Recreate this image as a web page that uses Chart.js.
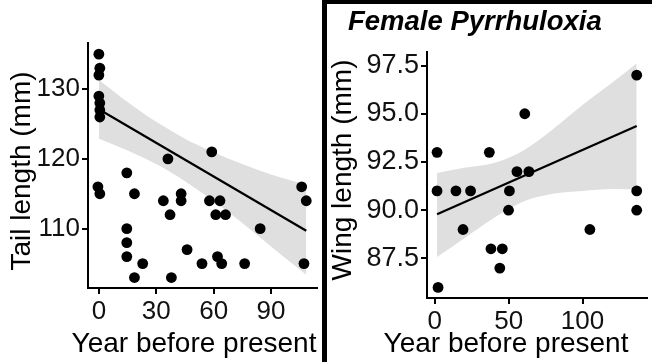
<!DOCTYPE html>
<html><head><meta charset="utf-8">
<script src="https://cdn.jsdelivr.net/npm/chart.js@4.4.1/dist/chart.umd.min.js"></script>
<style>
html,body{margin:0;padding:0;background:#fff;overflow:hidden;width:652px;height:362px;}
#c1{position:absolute;left:0;top:0;}
#c2{position:absolute;left:320px;top:0;}
#frame{position:absolute;left:322px;top:-1px;width:340px;height:370px;border:5px solid #000;box-sizing:border-box;pointer-events:none;}
</style></head><body>
<canvas id="c1" width="322" height="362"></canvas>
<canvas id="c2" width="332" height="362"></canvas>
<div id="frame"></div>
<script>
// ---------- Left panel: tail length ----------
const tailYear = [0, 0.5, 0, 0, 0.5, 0.5, 0.5, -0.5, 0.5,
  14.6, 36.1, 59,
  18.6, 33.7, 43, 43, 37.2, 57.8, 63.3, 61.1, 66.2, 84.3, 106, 108.4, 107.2,
  14.6, 14.6, 14.6, 22.9, 18.6, 37.9, 46.1, 53.9, 62, 64.2, 76.2];
const tailLength = [135, 133, 132, 129, 128, 127, 126, 116, 115,
  118, 120, 121,
  115, 114, 115, 114, 112, 114, 114, 112, 112, 110, 116, 114, 105,
  110, 108, 106, 105, 103, 103, 107, 105, 106, 105, 105];
const tailTrendYear = [0, 108.4];
const tailTrendLength = [127.1, 109.7];
const tailBandYear = [0, 15, 30, 45, 60, 75, 90, 108.4];
const tailBandUpper = [131.3, 128.15, 125.3, 122.9, 120.95, 119.25, 117.75, 116.3];
const tailBandLower = [122.9, 121.2, 119.25, 116.8, 113.95, 110.8, 107.45, 103.4];
const tailXTicks = [0, 30, 60, 90];
const tailYTicks = [110, 120, 130];

// ---------- Right panel: wing length ----------
const wingYear = [1.5, 36.9, 60.9, 136.7, 55.6, 63.7, 1.5, 14.3, 24.2, 50.5, 49.9, 19.1, 38, 45.7, 44, 2.2, 105, 136.7, 136.7];
const wingLength = [93, 93, 95, 97, 92, 92, 91, 91, 91, 91, 90, 89, 88, 88, 87, 86, 89, 91, 90];
const wingTrendYear = [1.5, 136.7];
const wingTrendLength = [89.79, 94.37];
const wingBandYear = [1.5, 20, 40, 60, 80, 100, 120, 136.7];
const wingBandUpper = [91.93, 92.2, 92.45, 93.1, 94.2, 95.45, 96.6, 97.62];
const wingBandLower = [87.57, 88.55, 89.6, 90.45, 90.85, 91.0, 91.1, 91.08];
const wingXTicks = [0, 50, 100];
const wingYTicks = [87.5, 90.0, 92.5, 95.0, 97.5];

const FONT = '"Liberation Sans", Arial, Helvetica, sans-serif';
const zip = (xs, ys) => xs.map((x, i) => ({x: x, y: ys[i]}));

function axis(min, max, ticks, fmt, fit, size) {
  return {
    type: 'linear', min: min, max: max,
    afterBuildTicks: s => { s.ticks = ticks.map(v => ({value: v})); },
    afterFit: fit,
    ticks: {color: '#111', font: {family: FONT, size: size}, padding: 2, maxRotation: 0, autoSkip: false,
      callback: v => fmt(v)},
    grid: {display: true, drawOnChartArea: false, drawTicks: true, tickLength: 6, color: '#000', lineWidth: 2},
    border: {display: true, color: '#000', width: 2}
  };
}

function titles(o) {
  return {
    id: 'titles',
    afterDraw(chart) {
      const ctx = chart.ctx;
      ctx.save();
      ctx.fillStyle = '#000';
      ctx.textBaseline = 'alphabetic';
      ctx.textAlign = 'center';
      ctx.font = '28px ' + FONT;
      ctx.fillText(o.xTitle, o.xt[0], o.xt[1]);
      if (o.title) {
        ctx.textAlign = 'left';
        ctx.font = 'italic bold 27.5px ' + FONT;
        ctx.fillText(o.title, o.tt[0], o.tt[1]);
        ctx.textAlign = 'center';
        ctx.font = '28px ' + FONT;
      }
      ctx.translate(o.yt[0], o.yt[1]);
      ctx.rotate(-Math.PI / 2);
      ctx.fillText(o.yTitle, 0, 0);
      ctx.restore();
    }
  };
}

function makePanel(id, d) {
  new Chart(document.getElementById(id), {
    type: 'scatter',
    data: {datasets: [
      {data: zip(d.px, d.py), order: 0, pointRadius: 5.4, pointHoverRadius: 5.4, backgroundColor: '#000', borderWidth: 0, showLine: false},
      {data: zip(d.tx, d.ty), order: 1, showLine: true, pointRadius: 0, borderColor: '#000', borderWidth: 2.2, fill: false},
      {data: zip(d.bx, d.bu), order: 2, showLine: true, pointRadius: 0, borderWidth: 0, borderColor: 'rgba(0,0,0,0)',
        backgroundColor: 'rgb(223,223,224)', fill: '+1', cubicInterpolationMode: 'monotone'},
      {data: zip(d.bx, d.bl), order: 3, showLine: true, pointRadius: 0, borderWidth: 0, borderColor: 'rgba(0,0,0,0)',
        fill: false, cubicInterpolationMode: 'monotone'}
    ]},
    options: {
      responsive: false, animation: false, devicePixelRatio: 1,
      layout: {padding: d.pad},
      plugins: {legend: {display: false}, tooltip: {enabled: false}, filler: {propagate: false}},
      scales: {
        x: axis(d.xmin, d.xmax, d.xticks, d.xfmt, s => { s.height = d.xh; }, 26),
        y: axis(d.ymin, d.ymax, d.yticks, d.yfmt, s => { s.width = d.yw; }, d.ysize)
      }
    },
    plugins: [titles(d.titles)]
  });
}

makePanel('c1', {
  px: tailYear, py: tailLength, tx: tailTrendYear, ty: tailTrendLength,
  bx: tailBandYear, bu: tailBandUpper, bl: tailBandLower,
  xmin: -5.68, xmax: 113.8, ymin: 101.5, ymax: 136.6,
  xticks: tailXTicks, yticks: tailYTicks,
  xfmt: v => String(v), yfmt: v => String(v), ysize: 26,
  pad: {top: 43, right: 3, left: 0, bottom: 0}, xh: 74, yw: 88,
  titles: {xTitle: 'Year before present', xt: [194, 352], yTitle: 'Tail length (mm)', yt: [30, 171]}
});

makePanel('c2', {
  px: wingYear, py: wingLength, tx: wingTrendYear, ty: wingTrendLength,
  bx: wingBandYear, bu: wingBandUpper, bl: wingBandLower,
  xmin: -5.3, xmax: 143.4, ymin: 85.45, ymax: 98.2,
  xticks: wingXTicks, yticks: wingYTicks,
  xfmt: v => String(v), yfmt: v => v.toFixed(1), ysize: 27,
  pad: {top: 52, right: 0, left: 0, bottom: 0}, xh: 64, yw: 107,
  titles: {xTitle: 'Year before present', xt: [186, 352], yTitle: 'Wing length (mm)', yt: [31, 170],
    title: 'Female Pyrrhuloxia', tt: [28, 30]}
});
</script>
</body></html>
